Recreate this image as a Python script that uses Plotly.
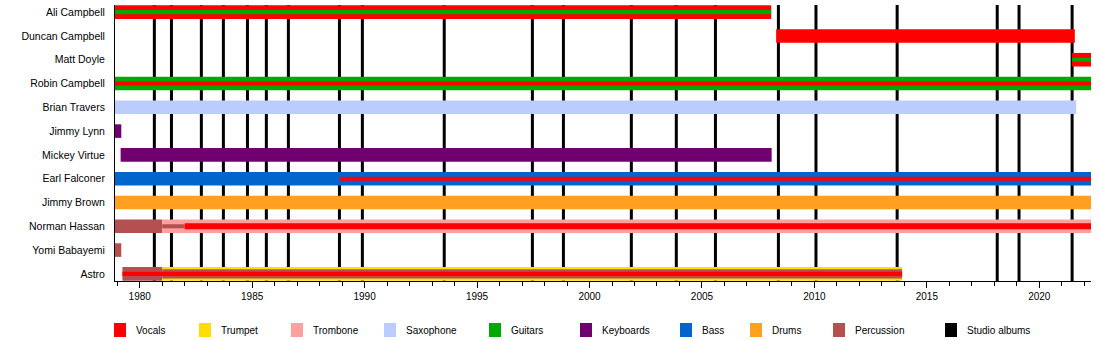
import plotly.graph_objects as go

# ---------------- data ----------------
members = ["Ali Campbell", "Duncan Campbell", "Matt Doyle", "Robin Campbell",
           "Brian Travers", "Jimmy Lynn", "Mickey Virtue", "Earl Falconer",
           "Jimmy Brown", "Norman Hassan", "Yomi Babayemi", "Astro"]

period_start = 1978.9
period_end = 2022.3

instruments = ["Vocals", "Trumpet", "Trombone", "Saxophone", "Guitars",
               "Keyboards", "Bass", "Drums", "Percussion", "Studio albums"]
instrument_colors = ["#FF0000", "#FFDD00", "#FFA0A0", "#BBCCFF", "#00AA00",
                     "#700070", "#0066CC", "#FFA020", "#B45050", "#000000"]

# membership spans (layer 0 = main role, 1 = second role, 2 = third role, 3 = inner second role)
span_member = ["Ali Campbell", "Ali Campbell", "Duncan Campbell", "Matt Doyle", "Matt Doyle",
               "Robin Campbell", "Robin Campbell", "Brian Travers", "Jimmy Lynn", "Mickey Virtue",
               "Earl Falconer", "Earl Falconer", "Jimmy Brown", "Norman Hassan", "Norman Hassan",
               "Norman Hassan", "Norman Hassan", "Yomi Babayemi", "Astro", "Astro", "Astro", "Astro"]
span_from = [period_start, period_start, 2008.3, 2021.46, 2021.46,
             period_start, period_start, period_start, period_start, 1979.15,
             period_start, 1988.9, period_start, period_start, 1981.0,
             1981.0, 1982.0, period_start, 1979.23, 1981.0, 1981.0, 1979.23]
span_till = [2008.08, 2008.08, 2021.58, period_end, period_end,
             period_end, period_end, 2021.64, 1979.18, 2008.1,
             period_end, period_end, period_end, 1981.0, period_end,
             1982.0, period_end, 1979.18, 1981.0, 2013.9, 2013.9, 2013.9]
span_instr = ["Vocals", "Guitars", "Vocals", "Vocals", "Guitars",
              "Guitars", "Vocals", "Saxophone", "Keyboards", "Keyboards",
              "Bass", "Vocals", "Drums", "Percussion", "Trombone",
              "Percussion", "Vocals", "Percussion", "Percussion", "Trumpet", "Percussion", "Vocals"]
span_layer = [0, 2, 0, 0, 2,
              0, 2, 0, 0, 0,
              0, 2, 0, 0, 0,
              2, 3, 0, 0, 0, 1, 2]

# studio album release dates
album_dates = [1980.65, 1981.41, 1982.74, 1983.72, 1984.79, 1985.63, 1986.61,
               1988.88, 1989.9, 1993.54, 1997.46, 1998.84, 2001.86, 2003.86,
               2005.6, 2008.4, 2010.07, 2013.68, 2018.13, 2019.1, 2021.46]

major_ticks = [1980, 1985, 1990, 1995, 2000, 2005, 2010, 2015, 2020]

# ---------------- style ----------------
W, H = 1100, 340
ML, MR, MT, MB = 115, 9, 5, 59
layer_width = {0: 0.57, 1: 0.38, 2: 0.17, 3: 0.26}
layer_draw_order = {0: 0, 1: 1, 3: 2, 2: 3}
color_of = dict(zip(instruments, instrument_colors))
FONT = "Liberation Sans, Arial, sans-serif"

fig = go.Figure()

order = sorted(range(len(span_member)), key=lambda i: layer_draw_order[span_layer[i]])
for i in order:
    fig.add_trace(go.Bar(
        orientation="h",
        y=[span_member[i]],
        base=[span_from[i]],
        x=[span_till[i] - span_from[i]],
        width=layer_width[span_layer[i]],
        marker=dict(color=color_of[span_instr[i]], line=dict(width=0)),
        showlegend=False,
        name=span_instr[i],
        hovertemplate=span_member[i] + " – " + span_instr[i] + "<extra></extra>",
    ))

shapes = []
for d in album_dates:
    shapes.append(dict(type="line", xref="x", yref="paper", x0=d, x1=d, y0=0, y1=1,
                       line=dict(color="black", width=3), layer="below"))

# manual legend (pixel positions converted to paper coords)
plot_w = W - ML - MR
plot_h = H - MT - MB
legend_sq_x = [114, 199, 291, 384, 489, 580, 680, 750, 833, 945]
legend_y_px = 330
annotations = []
for name, col, px in zip(instruments, instrument_colors, legend_sq_x):
    x0 = (px - ML) / plot_w
    x1 = (px + 12 - ML) / plot_w
    y0 = (H - MB - (legend_y_px + 7)) / plot_h
    y1 = (H - MB - (legend_y_px - 7)) / plot_h
    shapes.append(dict(type="rect", xref="paper", yref="paper", x0=x0, x1=x1, y0=y0, y1=y1,
                       fillcolor=col, line=dict(width=0)))
    annotations.append(dict(xref="paper", yref="paper", x=(px + 20 - ML) / plot_w,
                            y=(H - MB - legend_y_px) / plot_h, text=name, showarrow=False,
                            xanchor="left", yanchor="middle",
                            font=dict(size=10, color="black", family=FONT)))

fig.update_layout(
    width=W, height=H,
    margin=dict(l=ML, r=MR, t=MT, b=MB, pad=0),
    barmode="overlay",
    plot_bgcolor="white", paper_bgcolor="white",
    shapes=shapes, annotations=annotations,
    font=dict(family=FONT, size=10, color="black"),
    xaxis=dict(range=[period_start, period_end], tickvals=major_ticks,
               ticks="outside", ticklen=6, tickcolor="black", tickwidth=1,
               minor=dict(dtick=1, tick0=1979, ticks="outside", ticklen=4,
                          tickcolor="black", tickwidth=1, showgrid=False),
               showline=True, linecolor="black", linewidth=1, showgrid=False,
               zeroline=False, tickfont=dict(size=10, family=FONT)),
    yaxis=dict(type="category", categoryorder="array", categoryarray=members,
               range=[len(members) - 1 + 0.3, -0.3], showline=True, linecolor="black",
               linewidth=1, showgrid=False, zeroline=False, ticks="",
               ticklabelstandoff=7, tickfont=dict(size=10.5, family=FONT)),
)

fig.write_html("out.html")
